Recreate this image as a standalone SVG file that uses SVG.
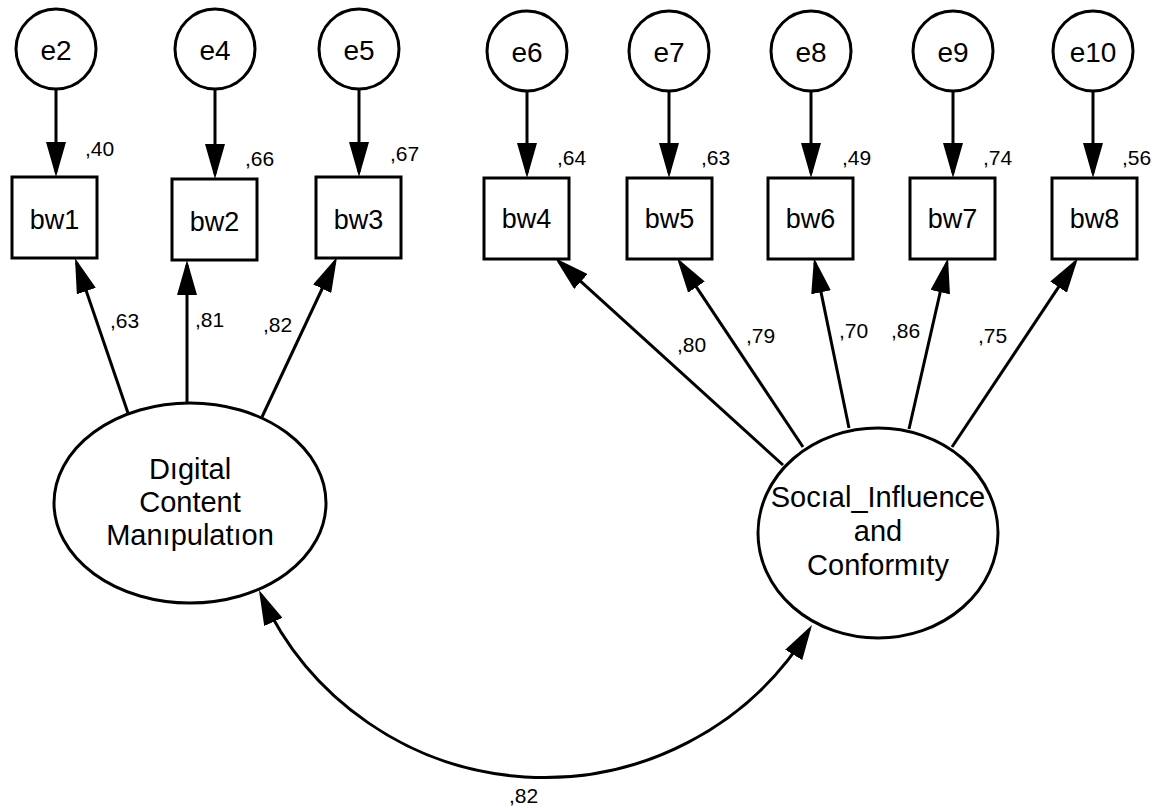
<svg xmlns="http://www.w3.org/2000/svg" width="1157" height="810" viewBox="0 0 1157 810">
<style>
  .shape { fill: #ffffff; stroke: #000000; stroke-width: 3; }
  .conn { fill: none; stroke: #000000; stroke-width: 3; }
  .lbl { font-family: "Liberation Sans", Arial, sans-serif; fill: #000000; text-anchor: middle; }
  .err { font-size: 28px; }
  .obs { font-size: 27px; }
  .lat { font-size: 29px; }
  .val { font-family: "Liberation Sans", Arial, sans-serif; fill: #000000; font-size: 21px; }
</style>
<defs>
  <marker id="ah" markerUnits="userSpaceOnUse" viewBox="0 0 35 20" markerWidth="35" markerHeight="20" refX="30" refY="10" orient="auto-start-reverse">
    <path d="M0,0 L35,10 L0,20 Z" fill="#000000"/>
  </marker>
</defs>
<rect x="0" y="0" width="1157" height="810" fill="#ffffff"/>

<g id="connectors">
  <line class="conn" x1="56" y1="89" x2="56" y2="172" marker-end="url(#ah)"/>
  <line class="conn" x1="215" y1="89" x2="215" y2="174" marker-end="url(#ah)"/>
  <line class="conn" x1="359" y1="89" x2="359" y2="172" marker-end="url(#ah)"/>
  <line class="conn" x1="527" y1="91" x2="527" y2="173" marker-end="url(#ah)"/>
  <line class="conn" x1="669" y1="91" x2="669" y2="173" marker-end="url(#ah)"/>
  <line class="conn" x1="811" y1="91" x2="811" y2="173" marker-end="url(#ah)"/>
  <line class="conn" x1="953" y1="91" x2="953" y2="173" marker-end="url(#ah)"/>
  <line class="conn" x1="1093" y1="91" x2="1093" y2="173" marker-end="url(#ah)"/>
  <line class="conn" x1="128" y1="413" x2="76.6" y2="262.7" marker-end="url(#ah)"/>
  <line class="conn" x1="187" y1="403" x2="187" y2="265" marker-end="url(#ah)"/>
  <line class="conn" x1="262" y1="417" x2="334.9" y2="261.5" marker-end="url(#ah)"/>
  <line class="conn" x1="783" y1="465" x2="558.7" y2="261.4" marker-end="url(#ah)"/>
  <line class="conn" x1="803" y1="447" x2="679.8" y2="262.2" marker-end="url(#ah)"/>
  <line class="conn" x1="849" y1="428" x2="815" y2="262.9" marker-end="url(#ah)"/>
  <line class="conn" x1="909" y1="429" x2="946.9" y2="262.9" marker-end="url(#ah)"/>
  <line class="conn" x1="952" y1="447" x2="1075.2" y2="262.2" marker-end="url(#ah)"/>
  <path class="conn" d="M261,594.6 A311,311 0 0 0 809.4,629.3" marker-start="url(#ah)" marker-end="url(#ah)"/>
</g>

<g id="labels-values">
  <text class="val" x="85" y="156">,40</text>
  <text class="val" x="245" y="166">,66</text>
  <text class="val" x="390" y="161">,67</text>
  <text class="val" x="557" y="165">,64</text>
  <text class="val" x="701" y="165">,63</text>
  <text class="val" x="842" y="165">,49</text>
  <text class="val" x="983" y="165">,74</text>
  <text class="val" x="1122" y="165">,56</text>
  <text class="val" x="110" y="328">,63</text>
  <text class="val" x="195" y="327">,81</text>
  <text class="val" x="263" y="332">,82</text>
  <text class="val" x="677" y="352">,80</text>
  <text class="val" x="746" y="343">,79</text>
  <text class="val" x="839" y="338">,70</text>
  <text class="val" x="891" y="338">,86</text>
  <text class="val" x="978" y="343">,75</text>
  <text class="val" x="509" y="803">,82</text>
</g>

<g id="e2"><circle class="shape" cx="56" cy="49" r="40"/><text class="lbl err" x="56" y="60">e2</text></g>
<g id="e4"><circle class="shape" cx="215" cy="49" r="40"/><text class="lbl err" x="215" y="60">e4</text></g>
<g id="e5"><circle class="shape" cx="359" cy="49" r="40"/><text class="lbl err" x="359" y="60">e5</text></g>
<g id="e6"><circle class="shape" cx="527" cy="51" r="40"/><text class="lbl err" x="527" y="62">e6</text></g>
<g id="e7"><circle class="shape" cx="669" cy="51" r="40"/><text class="lbl err" x="669" y="62">e7</text></g>
<g id="e8"><circle class="shape" cx="811" cy="51" r="40"/><text class="lbl err" x="811" y="62">e8</text></g>
<g id="e9"><circle class="shape" cx="953" cy="51" r="40"/><text class="lbl err" x="953" y="62">e9</text></g>
<g id="e10"><circle class="shape" cx="1093" cy="51" r="40"/><text class="lbl err" x="1093" y="62">e10</text></g>

<g id="bw1"><rect class="shape" x="12" y="177" width="85" height="81"/><text class="lbl obs" x="54.5" y="229">bw1</text></g>
<g id="bw2"><rect class="shape" x="172" y="179" width="85" height="81"/><text class="lbl obs" x="214.5" y="231">bw2</text></g>
<g id="bw3"><rect class="shape" x="316" y="177" width="85" height="81"/><text class="lbl obs" x="358.5" y="229">bw3</text></g>
<g id="bw4"><rect class="shape" x="484" y="178" width="85" height="81"/><text class="lbl obs" x="526.5" y="228">bw4</text></g>
<g id="bw5"><rect class="shape" x="627" y="178" width="85" height="81"/><text class="lbl obs" x="669.5" y="228">bw5</text></g>
<g id="bw6"><rect class="shape" x="768" y="178" width="85" height="81"/><text class="lbl obs" x="810.5" y="228">bw6</text></g>
<g id="bw7"><rect class="shape" x="910" y="178" width="85" height="81"/><text class="lbl obs" x="952.5" y="228">bw7</text></g>
<g id="bw8"><rect class="shape" x="1052" y="178" width="85" height="81"/><text class="lbl obs" x="1094.5" y="228">bw8</text></g>

<g id="digital_content_manipulation">
  <ellipse class="shape" cx="190" cy="503" rx="136" ry="100"/>
  <text class="lbl lat" x="190" y="479">Dıgital</text>
  <text class="lbl lat" x="190" y="512">Content</text>
  <text class="lbl lat" x="190" y="545">Manıpulatıon</text>
</g>
<g id="social_influence_conformity">
  <ellipse class="shape" cx="878" cy="533" rx="120" ry="105"/>
  <text class="lbl lat" x="878" y="507">Socıal_Influence</text>
  <text class="lbl lat" x="878" y="541">and</text>
  <text class="lbl lat" x="878" y="575">Conformıty</text>
</g>
</svg>
